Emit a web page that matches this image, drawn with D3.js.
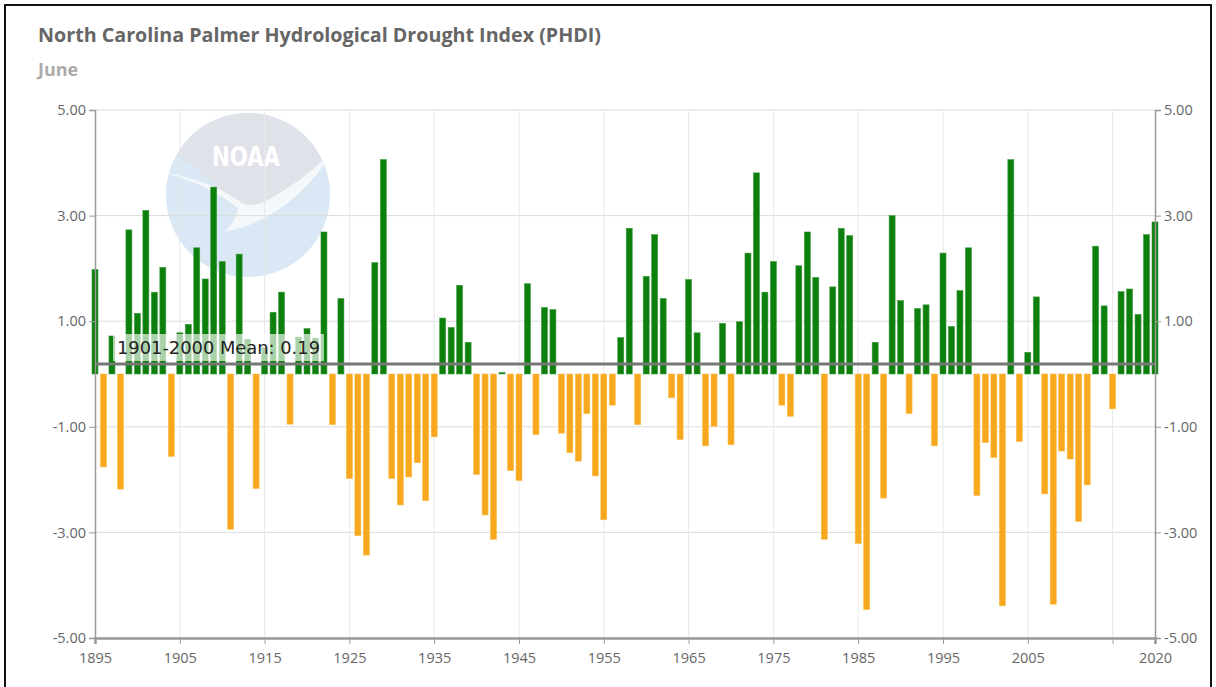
<!DOCTYPE html>
<html>
<head>
<meta charset="utf-8">
<script src="https://cdn.jsdelivr.net/npm/d3@7"></script>
<style>
  body { margin: 0; background: #fff; }
  svg { display: block; }
  .tick text { font-family: "Open Sans", sans-serif; font-size: 14.5px; fill: #666; }
</style>
</head>
<body>
<svg id="chart" width="1216" height="687"></svg>
<script>
// June PHDI, North Carolina, 1895-2020
const years = d3.range(1895, 2021);
const phdi = [
  1.98, -1.76, 0.72, -2.18, 2.73, 1.15, 3.10, 1.55, 2.02, -1.56,
  0.78, 0.94, 2.39, 1.80, 3.54, 2.13, -2.94, 2.27, 0.66, -2.17,
  0.50, 1.17, 1.55, -0.95, 0.70, 0.86, 0.68, 2.69, -0.96, 1.43,
  -1.98, -3.06, -3.43, 2.11, 4.06, -1.98, -2.48, -1.95, -1.68, -2.40,
  -1.19, 1.06, 0.88, 1.68, 0.60, -1.90, -2.67, -3.13, 0.03, -1.83,
  -2.02, 1.71, -1.15, 1.26, 1.22, -1.12, -1.49, -1.65, -0.75, -1.93,
  -2.76, -0.59, 0.69, 2.76, -0.96, 1.85, 2.64, 1.43, -0.45, -1.24,
  1.79, 0.78, -1.36, -0.99, 0.96, -1.34, 0.99, 2.29, 3.81, 1.55,
  2.13, -0.59, -0.80, 2.05, 2.69, 1.83, -3.13, 1.65, 2.76, 2.62,
  -3.21, -4.46, 0.60, -2.35, 3.00, 1.39, -0.75, 1.24, 1.31, -1.36,
  2.29, 0.90, 1.58, 2.39, -2.30, -1.30, -1.58, -4.39, 4.06, -1.28,
  0.41, 1.46, -2.27, -4.36, -1.46, -1.61, -2.79, -2.10, 2.42, 1.29,
  -0.66, 1.56, 1.61, 1.13, 2.64, 2.88
];
const meanValue = 0.19;
const meanLabel = '1901-2000 Mean: 0.19';
const xTicks = [1895, 1905, 1915, 1925, 1935, 1945, 1955, 1965, 1975, 1985, 1995, 2005, 2015, 2020];
const xTickLabels = ['1895', '1905', '1915', '1925', '1935', '1945', '1955', '1965', '1975', '1985', '1995', '2005', '', '2020'];
const yTicks = [-5, -3, -1, 1, 3, 5];
const title = 'North Carolina Palmer Hydrological Drought Index (PHDI)';
const subtitle = 'June';

const data = years.map((yr, i) => ({year: yr, value: phdi[i]}));

const plotLeft = 95, plotRight = 1155, plotTop = 110, plotBottom = 638;
const svg = d3.select('#chart');

// outer frame
svg.append('rect')
    .attr('x', 5).attr('y', 5).attr('width', 1206).attr('height', 700)
    .attr('fill', 'none').attr('stroke', '#111').attr('stroke-width', 2);

svg.append('text')
    .attr('x', 38).attr('y', 42)
    .attr('textLength', 563).attr('lengthAdjust', 'spacingAndGlyphs')
    .text(title)
    .style('font-family', '"Open Sans", sans-serif')
    .style('font-weight', 'bold').style('font-size', '19px')
    .style('fill', '#666');

svg.append('text')
    .attr('x', 38).attr('y', 76)
    .text(subtitle)
    .style('font-family', '"Open Sans", sans-serif')
    .style('font-weight', 'bold').style('font-size', '18px')
    .style('fill', '#aaa');

let x = d3.scaleLinear().domain([1895, 2020]).range([plotLeft, plotRight]);
let y = d3.scaleLinear().domain([-5, 5]).range([plotBottom, plotTop]);

// NOAA watermark
let logo = svg.append('g').attr('opacity', 0.85);
logo.append('clipPath').attr('id', 'logo-clip')
    .append('circle').attr('cx', 248).attr('cy', 195).attr('r', 82);
let lg = logo.append('g').attr('clip-path', 'url(#logo-clip)');
lg.append('rect').attr('x', 160).attr('y', 110).attr('width', 180).attr('height', 170).attr('fill', '#d3e5f3');
lg.append('path')
    .attr('d', 'M150,100 L350,100 L330,150 Q300,190 262,208 Q246,214 236,206 Q210,176 170,150 Z')
    .attr('fill', '#dbdee6');
lg.append('path')
    .attr('d', 'M160,172 Q205,182 238,208 Q236,222 224,232 Q255,226 278,210 Q310,188 336,148 Q305,180 268,200 Q248,210 238,200 Q205,178 160,172 Z')
    .attr('fill', '#f4f7fa');
logo.append('text')
    .attr('x', 246).attr('y', 166)
    .attr('text-anchor', 'middle')
    .attr('textLength', 68).attr('lengthAdjust', 'spacingAndGlyphs')
    .text('NOAA')
    .style('font-family', '"DejaVu Sans", sans-serif')
    .style('font-weight', 'bold').style('font-size', '26px')
    .style('fill', '#fff');

// grid
let grid = svg.append('g');
grid.selectAll('line.h')
    .data(yTicks)
    .enter()
        .append('line')
        .attr('x1', plotLeft).attr('x2', plotRight)
        .attr('y1', d => y(d)).attr('y2', d => y(d))
        .attr('stroke', '#dcdcdc').attr('stroke-width', 1);
grid.selectAll('line.v')
    .data(xTicks.slice(1, -1))
    .enter()
        .append('line')
        .attr('x1', d => x(d)).attr('x2', d => x(d))
        .attr('y1', plotTop).attr('y2', plotBottom)
        .attr('stroke', '#e8e8e8').attr('stroke-width', 1);

// bars
svg.append('g').selectAll('rect')
    .data(data)
    .enter()
        .append('rect')
        .attr('x', d => x(d.year) - 3)
        .attr('width', 6)
        .attr('y', d => y(Math.max(0, d.value)))
        .attr('height', d => Math.abs(y(d.value) - y(0)))
        .attr('fill', d => d.value >= 0 ? '#0c7f0c' : '#f7a81e')
        .attr('stroke', d => d.value >= 0 ? '#3f9c3f' : '#fbbd4a')
        .attr('stroke-width', 0.6);

// mean line + label
svg.append('line')
    .attr('x1', plotLeft).attr('x2', plotRight)
    .attr('y1', y(meanValue)).attr('y2', y(meanValue))
    .attr('stroke', '#777').attr('stroke-width', 3);

svg.append('rect')
    .attr('x', 113).attr('y', 334).attr('width', 211).attr('height', 27)
    .attr('fill', '#fff').attr('opacity', 0.65);
svg.append('text')
    .attr('x', 117).attr('y', 354)
    .attr('textLength', 203).attr('lengthAdjust', 'spacingAndGlyphs')
    .text(meanLabel)
    .style('font-family', '"DejaVu Sans", sans-serif')
    .style('font-size', '17px')
    .style('fill', '#222');

// axes
const yFmt = d => d.toFixed(2);
let yLeft = svg.append('g')
    .attr('transform', `translate(${plotLeft}, 0)`)
    .call(d3.axisLeft(y).tickValues(yTicks).tickFormat(yFmt).tickSize(6).tickPadding(3));
let yRight = svg.append('g')
    .attr('transform', `translate(${plotRight}, 0)`)
    .call(d3.axisRight(y).tickValues(yTicks).tickFormat(yFmt).tickSize(6).tickPadding(3));
let xAxis = svg.append('g')
    .attr('transform', `translate(0, ${plotBottom})`)
    .call(d3.axisBottom(x).tickValues(xTicks).tickFormat((d, i) => xTickLabels[i]).tickSize(6).tickPadding(9));

[yLeft, yRight, xAxis].forEach(g => {
    g.selectAll('path.domain').attr('stroke', '#999').attr('stroke-width', 1.5);
    g.selectAll('.tick line').attr('stroke', '#999');
});
xAxis.select('path.domain').attr('stroke-width', 2.5);
</script>
</body>
</html>
